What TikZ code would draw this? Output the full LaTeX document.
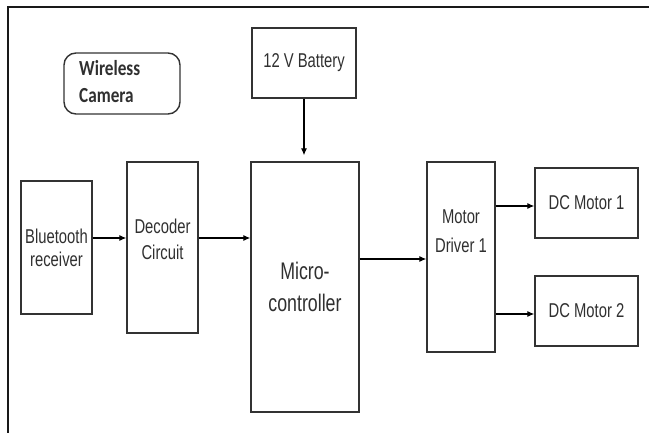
\documentclass[tikz,border=0pt]{standalone}
\usepackage{fontspec}
\setmainfont{Liberation Sans}[FakeStretch=0.74]
\newfontfamily\camfont{Carlito}[FakeStretch=0.8]
\usetikzlibrary{arrows.meta}
\definecolor{boxline}{HTML}{333333}
\definecolor{txt}{HTML}{303030}
\tikzset{
  blk/.style={draw=boxline, line width=1.4pt, fill=white, inner sep=0pt, text=txt,
    align=center, font=\fontsize{20}{23}\selectfont},
  lbl/.style={inner sep=0pt, text=txt, align=center, font=\fontsize{20}{26}\selectfont},
  arr/.style={draw=black, line width=1.1pt, -{Latex[length=7pt,width=6pt]}},
}
\begin{document}
\begin{tikzpicture}[x=1pt,y=-1pt]
\useasboundingbox (0,0) rectangle (649,433);
\fill[white] (0,0) rectangle (649,433);
% outer frame (top and left edges visible)
\draw[color=black!90, line width=2.4pt] (8,433) -- (8,7) -- (649,7);
% wireless camera
\node[draw=boxline, line width=1.4pt, rounded corners=12pt, minimum width=116pt, minimum height=61pt, inner sep=0pt] (cam) at (122,83.5) {};
\node[anchor=north west, inner sep=0pt, text=txt, align=left, font=\camfont\bfseries\fontsize{21.5}{27}\selectfont] (camtxt) at (79,60) {Wireless\\Camera};
% blocks
\node[blk, minimum width=104pt, minimum height=70pt] (bat) at (304,63) {12 V Battery};
\node[blk, minimum width=71pt, minimum height=133pt] (bt) at (56.5,247.5) {Bluetooth\\receiver};
\node[blk, minimum width=71pt, minimum height=171pt] (dec) at (162.5,247.5) {};
\node[lbl] (dectxt) at (162.5,239) {Decoder\\Circuit};
\node[blk, minimum width=108pt, minimum height=250pt, font=\fontsize{24}{32}\selectfont] (mc) at (305,287) {Micro-\\controller};
\node[blk, minimum width=68pt, minimum height=190pt] (drv) at (461,257) {};
\node[lbl, font=\fontsize{20}{29}\selectfont] (drvtxt) at (461,231) {Motor\\Driver 1};
\node[blk, minimum width=103pt, minimum height=70pt] (m1) at (586.5,203) {DC Motor 1};
\node[blk, minimum width=103pt, minimum height=70pt] (m2) at (586.5,311) {DC Motor 2};
% arrow levels
\coordinate (ya) at (0,238);
\coordinate (yb) at (0,259);
\coordinate (yc) at (0,206);
\coordinate (yd) at (0,314);
% connectors
\draw[arr, shorten >=6pt] (bat.south) -- (bat.south |- mc.north);
\draw[arr] (bt.east |- ya) -- (dec.west |- ya);
\draw[arr] (dec.east |- ya) -- (mc.west |- ya);
\draw[arr] (mc.east |- yb) -- (drv.west |- yb);
\draw[arr] (drv.east |- yc) -- (m1.west |- yc);
\draw[arr] (drv.east |- yd) -- (m2.west |- yd);
\end{tikzpicture}
\end{document}
